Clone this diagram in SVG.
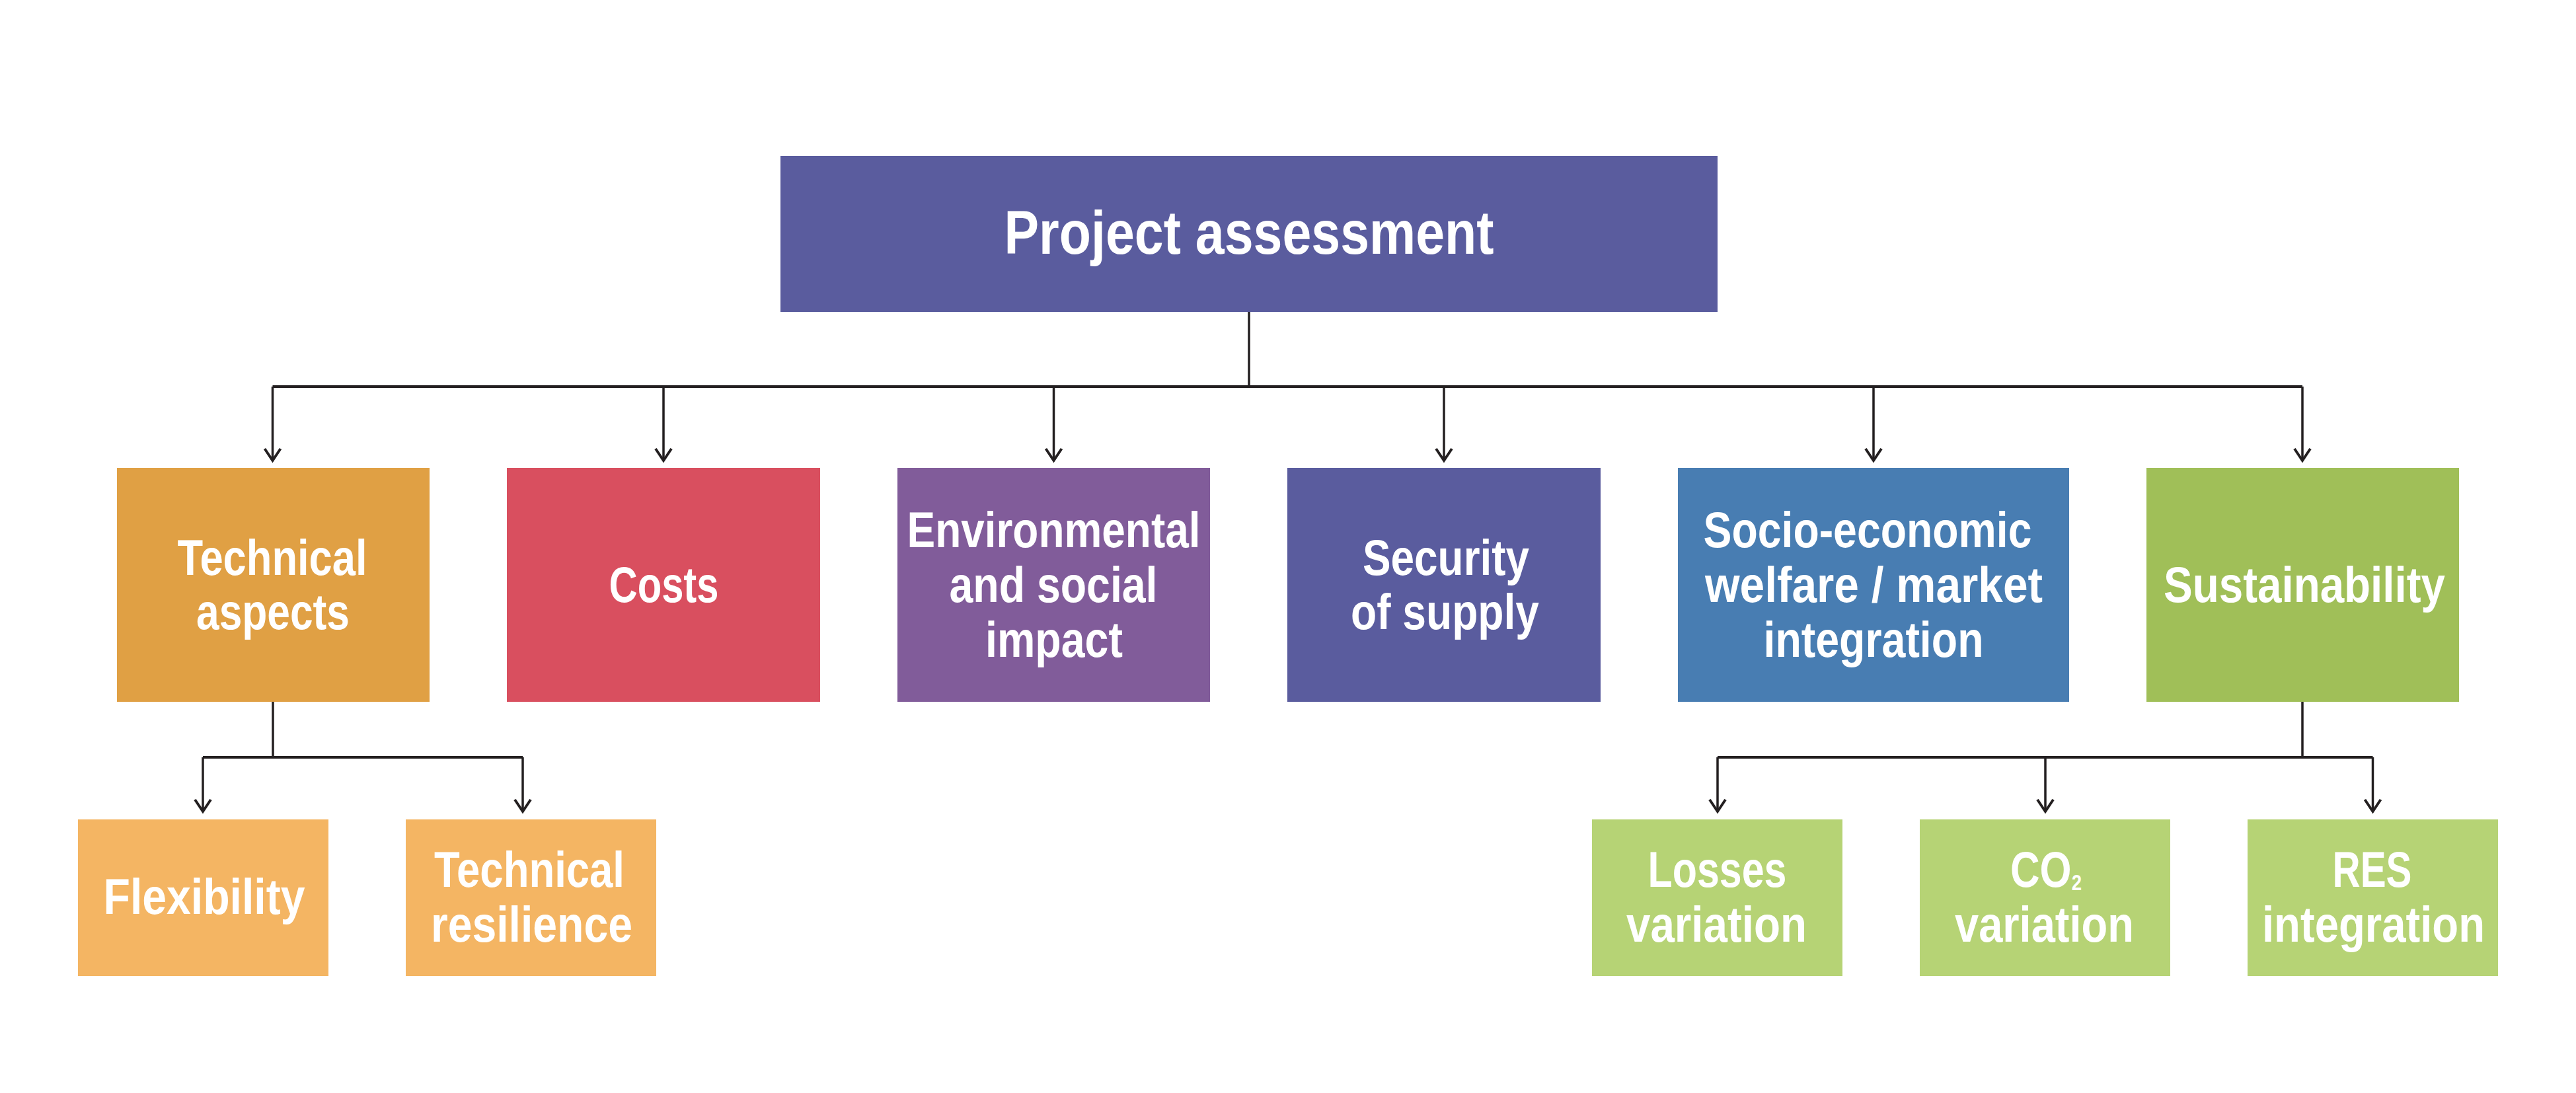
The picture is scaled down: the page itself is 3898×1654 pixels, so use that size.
<svg xmlns="http://www.w3.org/2000/svg" width="3898" height="1654" viewBox="0 0 3898 1654">
<style>
.t{font-family:"Liberation Sans",Arial,sans-serif;font-weight:bold;fill:#ffffff;text-anchor:middle;font-size:76px}
.big{font-size:92px}
.ln{fill:none;stroke:#231f20;stroke-width:3.5}
.bus{fill:none;stroke:#231f20;stroke-width:4}
.ar{fill:none;stroke:#231f20;stroke-width:3.5;marker-end:url(#arr)}
</style>
<defs>
<marker id="arr" markerUnits="userSpaceOnUse" viewBox="-22 -16 26 32" markerWidth="26" markerHeight="32" refX="0" refY="0" orient="auto">
<path d="M-18,-12 L0,0 L-18,12" fill="none" stroke="#231f20" stroke-width="4"/>
</marker>
</defs>
<rect width="3898" height="1654" fill="#ffffff"/>
<g id="connectors">
<path class="ln" d="M1890,472 V585"/>
<path class="bus" d="M412.5,585 H3484"/>
<path class="ar" d="M412.5,585 V697"/>
<path class="ar" d="M1004,585 V697"/>
<path class="ar" d="M1594.5,585 V697"/>
<path class="ar" d="M2185,585 V697"/>
<path class="ar" d="M2835,585 V697"/>
<path class="ar" d="M3484,585 V697"/>
<path class="ln" d="M413,1062 V1146"/>
<path class="bus" d="M307,1146 H791"/>
<path class="ar" d="M307,1146 V1228"/>
<path class="ar" d="M791,1146 V1228"/>
<path class="ln" d="M3484,1062 V1146"/>
<path class="bus" d="M2599,1146 H3590.5"/>
<path class="ar" d="M2599,1146 V1228"/>
<path class="ar" d="M3095,1146 V1228"/>
<path class="ar" d="M3590.5,1146 V1228"/>
</g>
<g id="project-assessment">
<rect x="1181" y="236" width="1418" height="236" fill="#5a5c9e"/>
<text class="t big" x="1890" y="384" textLength="741" lengthAdjust="spacingAndGlyphs">Project assessment</text>
</g>
<g id="technical-aspects">
<rect x="177" y="708" width="473" height="354" fill="#e0a044"/>
<text class="t" x="412" y="870" textLength="287" lengthAdjust="spacingAndGlyphs">Technical</text>
<text class="t" x="413" y="952" textLength="232" lengthAdjust="spacingAndGlyphs">aspects</text>
</g>
<g id="costs">
<rect x="767" y="708" width="474" height="354" fill="#d94f5f"/>
<text class="t" x="1004.5" y="911" textLength="166" lengthAdjust="spacingAndGlyphs">Costs</text>
</g>
<g id="environmental">
<rect x="1358" y="708" width="473" height="354" fill="#815c9a"/>
<text class="t" x="1594.5" y="828" textLength="444" lengthAdjust="spacingAndGlyphs">Environmental</text>
<text class="t" x="1594" y="911" textLength="315" lengthAdjust="spacingAndGlyphs">and social</text>
<text class="t" x="1595" y="994" textLength="208" lengthAdjust="spacingAndGlyphs">impact</text>
</g>
<g id="security">
<rect x="1948" y="708" width="474" height="354" fill="#5a5c9e"/>
<text class="t" x="2188" y="870" textLength="252" lengthAdjust="spacingAndGlyphs">Security</text>
<text class="t" x="2186.5" y="952" textLength="285" lengthAdjust="spacingAndGlyphs">of supply</text>
</g>
<g id="socio-economic">
<rect x="2539" y="708" width="592" height="354" fill="#487db2"/>
<text class="t" x="2826" y="828" textLength="497" lengthAdjust="spacingAndGlyphs">Socio-economic</text>
<text class="t" x="2835.5" y="911" textLength="511" lengthAdjust="spacingAndGlyphs">welfare / market</text>
<text class="t" x="2835" y="994" textLength="333" lengthAdjust="spacingAndGlyphs">integration</text>
</g>
<g id="sustainability">
<rect x="3248" y="708" width="473" height="354" fill="#a0bf58"/>
<text class="t" x="3487" y="911" textLength="426" lengthAdjust="spacingAndGlyphs">Sustainability</text>
</g>
<g id="flexibility">
<rect x="118" y="1240" width="379" height="237" fill="#f4b563"/>
<text class="t" x="309" y="1383" textLength="305" lengthAdjust="spacingAndGlyphs">Flexibility</text>
</g>
<g id="technical-resilience">
<rect x="614" y="1240" width="379" height="237" fill="#f4b563"/>
<text class="t" x="801" y="1342" textLength="288" lengthAdjust="spacingAndGlyphs">Technical</text>
<text class="t" x="804.5" y="1425" textLength="305" lengthAdjust="spacingAndGlyphs">resilience</text>
</g>
<g id="losses-variation">
<rect x="2409" y="1240" width="379" height="237" fill="#b6d375"/>
<text class="t" x="2598.5" y="1342" textLength="210" lengthAdjust="spacingAndGlyphs">Losses</text>
<text class="t" x="2597.5" y="1425" textLength="273" lengthAdjust="spacingAndGlyphs">variation</text>
</g>
<g id="co2-variation">
<rect x="2905" y="1240" width="379" height="237" fill="#b6d375"/>
<text class="t" x="3096" y="1342" textLength="108" lengthAdjust="spacingAndGlyphs">CO<tspan font-size="34" dy="5">2</tspan></text>
<text class="t" x="3093.5" y="1425" textLength="271" lengthAdjust="spacingAndGlyphs">variation</text>
</g>
<g id="res-integration">
<rect x="3401" y="1240" width="379" height="237" fill="#b6d375"/>
<text class="t" x="3589.5" y="1342" textLength="120" lengthAdjust="spacingAndGlyphs">RES</text>
<text class="t" x="3591.5" y="1425" textLength="337" lengthAdjust="spacingAndGlyphs">integration</text>
</g>
</svg>
